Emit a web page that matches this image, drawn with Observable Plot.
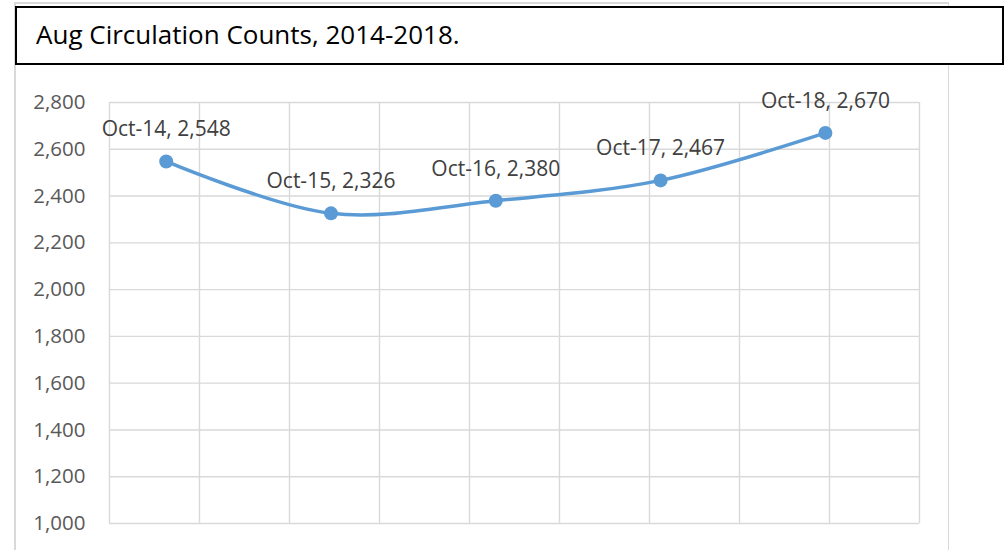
<!DOCTYPE html>
<html><head><meta charset="utf-8">
<script src="https://cdn.jsdelivr.net/npm/d3@7"></script>
<script src="https://cdn.jsdelivr.net/npm/@observablehq/plot@0.6"></script>
<style>
body{margin:0;background:#fff;}
#wrap{position:relative;width:1004px;height:550px;overflow:hidden;font-family:"Open Sans",sans-serif;background:#fff;}
.gl{position:absolute;background:#d9d9d9;}
#title{position:absolute;left:15px;top:6px;width:989px;height:59px;border:2px solid #000;box-sizing:border-box;background:#fff;z-index:2;}
#title span{position:absolute;left:19px;top:9px;font-size:26px;color:#000;white-space:nowrap;line-height:34px;}
#chart{position:absolute;left:0;top:70px;}
</style>
</head><body>
<div id="wrap">
  <div class="gl" style="left:15px;top:2px;width:934px;height:1.5px;"></div>
  <div class="gl" style="left:14px;top:2px;width:1.5px;height:548px;"></div>
  <div class="gl" style="left:947.5px;top:2px;width:1.5px;height:548px;"></div>
  <div id="title"><span>Aug Circulation Counts, 2014-2018.</span></div>
  <div id="chart"></div>
</div>
<script>
const years = [2014, 2015, 2016, 2017, 2018];
const labels = ["Oct-14", "Oct-15", "Oct-16", "Oct-17", "Oct-18"];
const counts = [2548, 2326, 2380, 2467, 2670];
const yTicks = [1000, 1200, 1400, 1600, 1800, 2000, 2200, 2400, 2600, 2800];
const xDomain = [2013.656, 2018.571];
const gridIntervals = 9;

const data = years.map((yr, i) => ({year: yr, label: labels[i], value: counts[i]}));
const step = (xDomain[1] - xDomain[0]) / gridIntervals;
const xGrid = d3.range(gridIntervals + 1).map(i => xDomain[0] + i * step);
const fmt = d3.format(",");
const fs = 21;

const chart = Plot.plot({
  width: 1004,
  height: 480,
  marginLeft: 109,
  marginRight: 85,
  marginTop: 32,
  marginBottom: 27,
  style: {fontFamily: "'Open Sans', sans-serif", color: "#595959", background: "transparent", overflow: "visible"},
  x: {type: "linear", domain: xDomain, axis: null},
  y: {domain: [1000, 2800]},
  marks: [
    Plot.ruleX(xGrid, {stroke: "#d9d9d9", strokeWidth: 1.4}),
    Plot.ruleY(yTicks, {stroke: "#d9d9d9", strokeWidth: 1.4}),
    Plot.axisY({ticks: yTicks, tickSize: 0, tickPadding: 24, tickFormat: fmt, fontSize: 20.5, fill: "#595959", label: null}),
    Plot.line(data, {x: "year", y: "value", stroke: "#5B9BD5", strokeWidth: 3.5, curve: "catmull-rom"}),
    Plot.dot(data, {x: "year", y: "value", r: 7, fill: "#5B9BD5", stroke: "none"}),
    Plot.text(data, {x: "year", y: "value", text: d => `${d.label}, ${fmt(d.value)}`, dy: -25 - 0.32 * fs, fontSize: fs, fill: "#404040", textAnchor: "middle"})
  ]
});
document.getElementById("chart").appendChild(chart);
</script>
</body></html>
